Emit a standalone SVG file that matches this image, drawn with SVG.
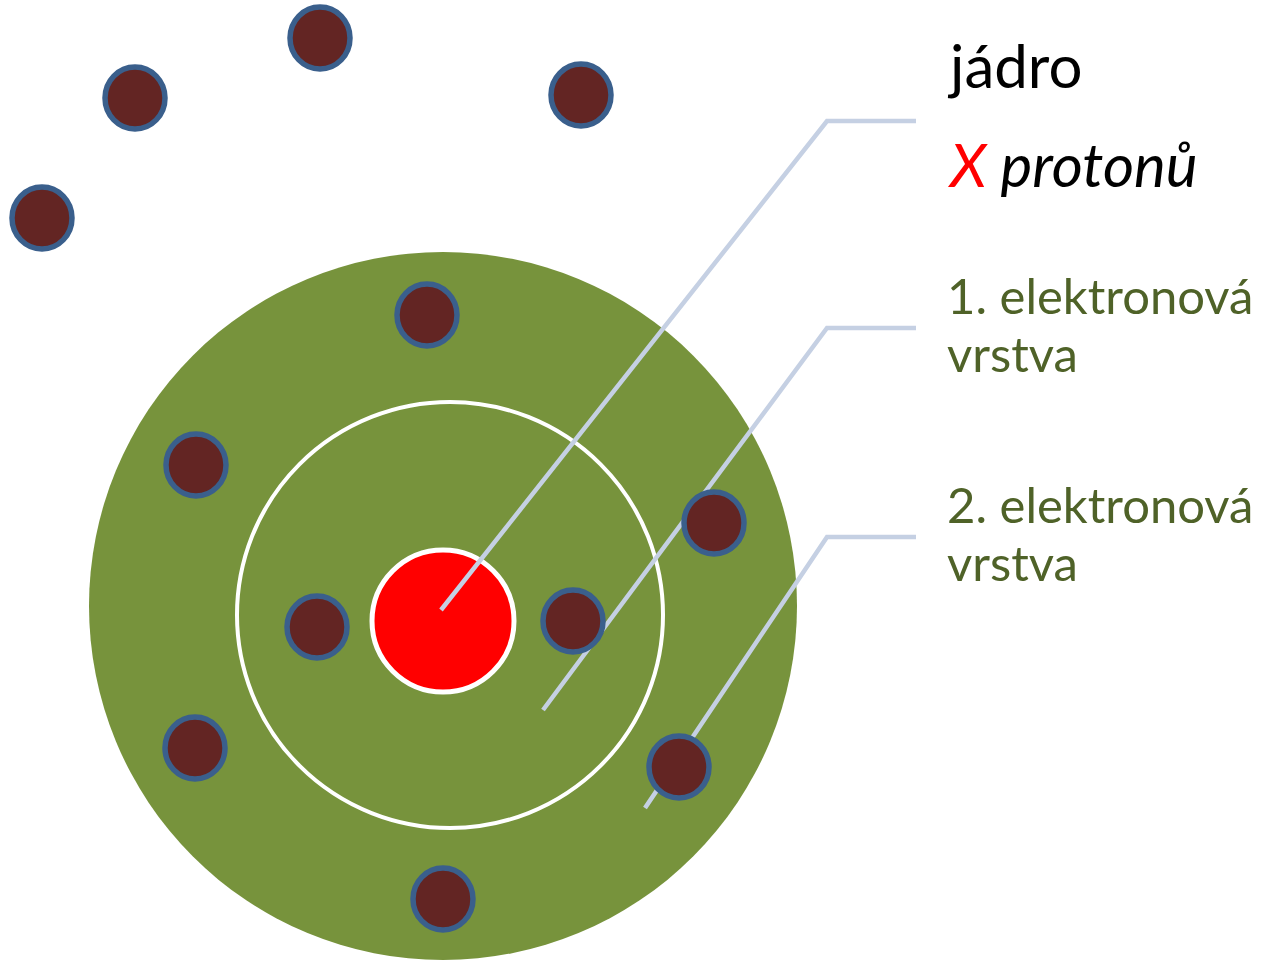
<svg xmlns="http://www.w3.org/2000/svg" width="1262" height="960" viewBox="0 0 1262 960">
<style>
.e{fill:#632523;stroke:#3A5F8C;stroke-width:5.5}
.ln{fill:none;stroke:#C5D0E3;stroke-width:4.5}
.t{font-family:Lato,"Open Sans",sans-serif;font-size:49px}
.big{font-size:60px}
.g{fill:#4F6228}
</style>
<rect width="1262" height="960" fill="#fff"/>
<g id="shell2"><circle cx="443" cy="606" r="354" fill="#77933C"/></g>
<g id="shell1"><circle cx="450" cy="615" r="213" fill="none" stroke="#fff" stroke-width="4"/></g>
<g id="nucleus"><circle cx="443" cy="621" r="71" fill="#FF0000" stroke="#fff" stroke-width="5"/></g>
<g id="electrons">
<ellipse class="e" cx="320" cy="38" rx="30" ry="31"/>
<ellipse class="e" cx="135" cy="98" rx="30" ry="31"/>
<ellipse class="e" cx="581" cy="95" rx="30" ry="31"/>
<ellipse class="e" cx="42" cy="218" rx="30" ry="31"/>
<ellipse class="e" cx="427" cy="315" rx="30" ry="31"/>
<ellipse class="e" cx="196" cy="465" rx="30" ry="31"/>
<ellipse class="e" cx="317" cy="627" rx="30" ry="31"/>
<ellipse class="e" cx="195" cy="748" rx="30" ry="31"/>
<ellipse class="e" cx="443" cy="899" rx="30" ry="31"/>
</g>
<g id="connectors">
<polyline class="ln" points="441,610 827,121 916,121"/>
<polyline class="ln" points="543,710 827,328 916,328"/>
<polyline class="ln" points="645,808 827,537 916,537"/>
</g>
<g id="electrons-front">
<ellipse class="e" cx="573" cy="621" rx="30" ry="31"/>
<ellipse class="e" cx="714" cy="523" rx="30" ry="31"/>
<ellipse class="e" cx="679" cy="767" rx="30" ry="31"/>
</g>
<g id="label-jadro">
<text class="t big" x="950" y="88" fill="#000">jádro</text>
<text class="t big" x="950" y="187" font-style="italic"><tspan fill="#FF0000">X</tspan><tspan fill="#000"> protonů</tspan></text>
</g>
<g id="label-vrstva1">
<text class="t g" x="947" y="314">1. elektronová</text>
<text class="t g" x="947" y="372">vrstva</text>
</g>
<g id="label-vrstva2">
<text class="t g" x="947" y="523">2. elektronová</text>
<text class="t g" x="947" y="581">vrstva</text>
</g>
</svg>
